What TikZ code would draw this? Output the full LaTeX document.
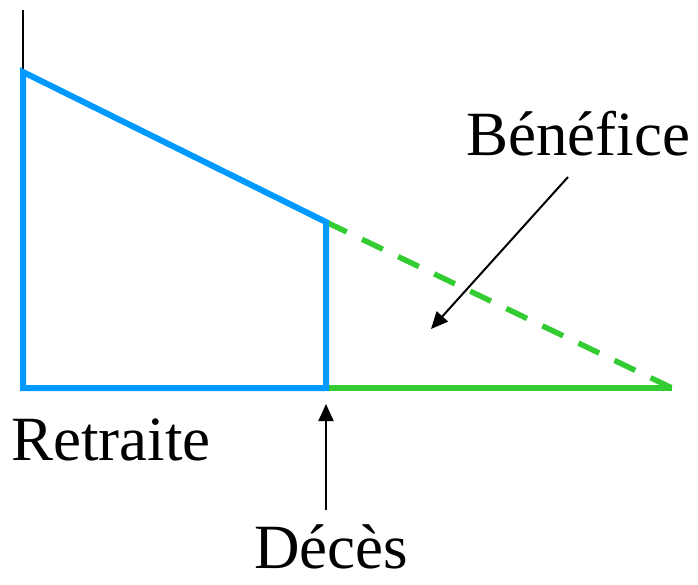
\documentclass[tikz,border=0pt]{standalone}
\usepackage{fontspec}
\setmainfont{Liberation Serif}
\usetikzlibrary{arrows.meta}
\definecolor{cblue}{HTML}{0099FF}
\definecolor{cgreen}{HTML}{33CC33}
\begin{document}
\begin{tikzpicture}[x=1pt,y=-1pt,
  blueline/.style={draw=cblue,line width=6pt,line join=miter},
  greenline/.style={draw=cgreen,line width=5.5pt},
  greendash/.style={draw=cgreen,line width=5.5pt,dash pattern=on 23pt off 17pt},
  pointer/.style={draw=black,line width=2pt,-{Triangle[length=17pt,width=15pt]}},
  lbl/.style={font=\fontsize{63}{72}\selectfont,inner sep=0pt,anchor=base west}]
\useasboundingbox (0,0) rectangle (698,584);
\coordinate (top) at (23,10);
\coordinate (a) at (23,72);
\coordinate (o) at (23,388);
\coordinate (d) at (326,388);
\coordinate (dtop) at (326,222);
\coordinate (e) at (672,388);
\draw[black,line width=2pt] (top) -- (a);
\draw[greenline] (d) -- (e);
\draw[greendash] (dtop) -- (e);
\draw[blueline] (a) -- (dtop) -- (d) -- (o) -- cycle;
\node[lbl] (ben) at (466,155) {Bénéfice};
\node[lbl] (ret) at (11,460) {Retraite};
\node[lbl,text depth=0pt] (dec) at (254,568) {Décès};
\coordinate (bs) at (568,177);
\coordinate (be) at (431,329);
\coordinate (ds) at (326,510);
\coordinate (de) at (326,404);
\draw[pointer] (bs) -- (be);
\draw[pointer] (ds) -- (de);
\end{tikzpicture}
\end{document}
